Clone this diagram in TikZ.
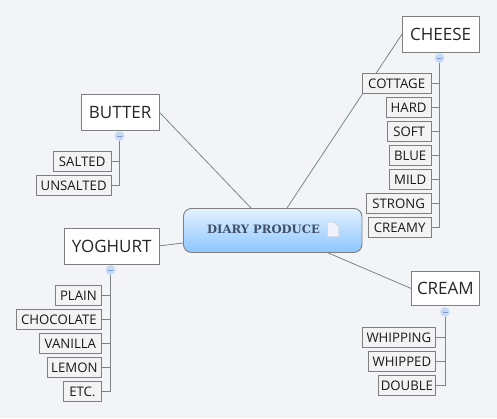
\documentclass[tikz,border=0pt]{standalone}
\usepackage{fontspec}
\setmainfont{Open Sans}
\newfontfamily\titlefont{DejaVu Serif}
\usetikzlibrary{positioning}
\definecolor{bgc}{HTML}{F2F4F8}
\definecolor{edgec}{HTML}{7F7F7F}
\definecolor{linec}{HTML}{808488}
\definecolor{subfill}{HTML}{F3F3F3}
\definecolor{titlec}{HTML}{3E5068}
\definecolor{hubtop}{HTML}{E4F2FF}
\definecolor{hubbot}{HTML}{8CC6FF}
\definecolor{markfill}{HTML}{C6D9F4}
\definecolor{markedge}{HTML}{D4E2F6}
\definecolor{markbar}{HTML}{7F9CC8}
\pgfdeclarelayer{bgl}
\pgfdeclarelayer{conn}
\pgfsetlayers{bgl,conn,main}
\tikzset{
  x=1pt,y=-1pt,
  topic/.style={draw=edgec,fill=white,line width=0.8pt,minimum height=35.5pt,inner sep=0pt,text=black!85,font=\fontsize{17}{20}\selectfont,anchor=north west},
  sub/.style={draw=edgec,fill=subfill,line width=0.8pt,minimum height=20pt,inner sep=0pt,text=black!90,font=\fontsize{13.2}{15}\selectfont,anchor=north west},
  conline/.style={draw=linec,line width=0.8pt},
  collapse/.style={circle,draw=markedge,fill=markfill,minimum size=9.5pt,inner sep=0pt,line width=0.5pt},
  minusbar/.style={draw=markbar,line width=0.6pt},
  central/.style={draw=edgec,rounded corners=8pt,top color=hubtop,bottom color=hubbot,line width=0.9pt,minimum width=178.5pt,minimum height=44pt,inner sep=0pt,anchor=north west}
}
\begin{document}
\begin{tikzpicture}
\begin{pgfonlayer}{bgl}
\fill[bgc] (0,0) rectangle (497,418);
\end{pgfonlayer}
\useasboundingbox (0,0) rectangle (497,418);
% central
\node[central] (hub) at (183,208) {};
\node[font=\titlefont\bfseries\fontsize{11.6}{13}\selectfont,text=titlec] (hubtext) at (263.5,229.5) {DIARY PRODUCE};
% note icon
\path[draw=black!18,fill=white!95!blue,line width=0.4pt] (327.5,222.5) -- (334.5,222.5) -- (338.5,226.5) -- (338.5,236.5) -- (327.5,236.5) -- cycle;
% topics
\node[topic,minimum width=76.5pt] (cheese) at (402,16) {CHEESE};
\node[topic,minimum width=77.5pt] (butter) at (81,94) {BUTTER};
\node[topic,minimum width=94.5pt] (yoghurt) at (64,228) {YOGHURT};
\node[topic,minimum width=68pt,minimum height=34pt] (cream) at (411,271) {CREAM};
% cheese subs
\node[sub,minimum width=68.5pt] (c1) at (362,73) {COTTAGE};
\node[sub,minimum width=44.5pt] (c2) at (386,97) {HARD};
\node[sub,minimum width=43.5pt] (c3) at (387,121) {SOFT};
\node[sub,minimum width=41.5pt] (c4) at (389,145) {BLUE};
\node[sub,minimum width=41.5pt] (c5) at (389,169) {MILD};
\node[sub,minimum width=64.5pt] (c6) at (366,193) {STRONG};
\node[sub,minimum width=62.5pt] (c7) at (368,217) {CREAMY};
% butter subs
\node[sub,minimum width=57.5pt] (b1) at (53,151) {SALTED};
\node[sub,minimum width=74.5pt] (b2) at (36,175) {UNSALTED};
% yoghurt subs
\node[sub,minimum width=46pt] (y1) at (55,285) {PLAIN};
\node[sub,minimum width=85pt] (y2) at (16,309) {CHOCOLATE};
\node[sub,minimum width=62pt] (y3) at (39,333) {VANILLA};
\node[sub,minimum width=54pt] (y4) at (47,357) {LEMON};
\node[sub,minimum width=38pt] (y5) at (63,381) {ETC.};
% cream subs
\node[sub,minimum width=73pt] (m1) at (362,327) {WHIPPING};
\node[sub,minimum width=67pt] (m2) at (368,351) {WHIPPED};
\node[sub,minimum width=57pt] (m3) at (378,375) {DOUBLE};
% collapse markers
\node[collapse] (kc) at (439.5,58) {};
\node[collapse] (kb) at (119.5,136) {};
\node[collapse] (ky) at (110.5,270) {};
\node[collapse] (km) at (445,312) {};
\draw[minusbar] (kc.center)+(-2.5,0) -- +(2.5,0);
\draw[minusbar] (kb.center)+(-2.5,0) -- +(2.5,0);
\draw[minusbar] (ky.center)+(-2.5,0) -- +(2.5,0);
\draw[minusbar] (km.center)+(-2.5,0) -- +(2.5,0);
% connector ends
\coordinate (hc) at (287,208);
\coordinate (hb) at (251,208);
\coordinate (hy) at (183,243);
\coordinate (hm) at (326,252);
\coordinate (ty) at (158.5,246);
\begin{pgfonlayer}{conn}
\draw[conline] (hc) -- (cheese.west);
\draw[conline] (hb) -- (butter.east);
\draw[conline] (hy) -- (ty);
\draw[conline] (hm) -- (cream.west);
\draw[conline] (kc) |- (c7.east);
\foreach \n in {c1,c2,c3,c4,c5,c6} \draw[conline] (\n.east) -- (\n.east -| kc);
\draw[conline] (kb) |- (b2.east);
\draw[conline] (b1.east) -- (b1.east -| kb);
\draw[conline] (ky) |- (y5.east);
\foreach \n in {y1,y2,y3,y4} \draw[conline] (\n.east) -- (\n.east -| ky);
\draw[conline] (km) |- (m3.east);
\foreach \n in {m1,m2} \draw[conline] (\n.east) -- (\n.east -| km);
\end{pgfonlayer}
\end{tikzpicture}
\end{document}
